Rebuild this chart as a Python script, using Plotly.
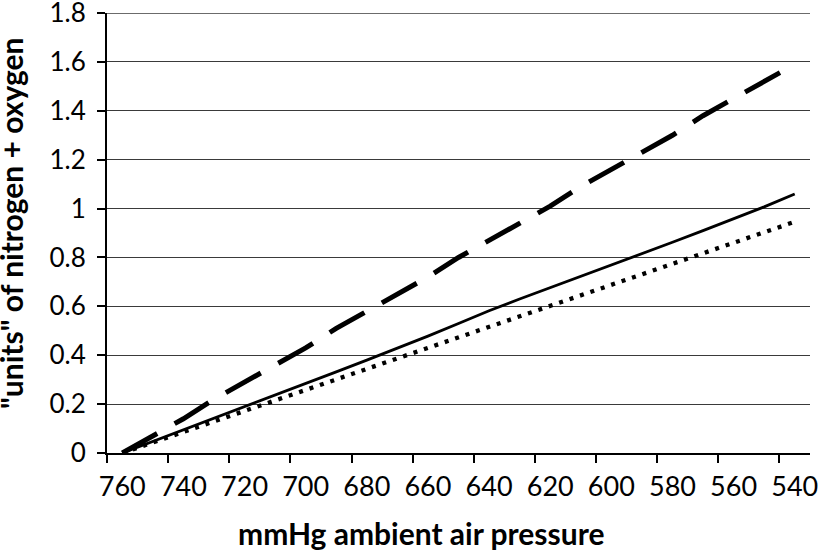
import plotly.graph_objects as go

# Data
pressure = [760, 750, 740, 730, 720, 710, 700, 690, 680, 670, 660, 650,
            640, 630, 620, 610, 600, 590, 580, 570, 560, 550, 540]
dashed_series = [0, 0.07, 0.14, 0.22, 0.29, 0.36, 0.43, 0.51, 0.58, 0.65, 0.72, 0.80,
                 0.87, 0.94, 1.01, 1.09, 1.16, 1.23, 1.30, 1.38, 1.45, 1.52, 1.59]
solid_series = [0, 0.047, 0.095, 0.142, 0.19, 0.237, 0.285, 0.332, 0.38, 0.428, 0.478, 0.53,
                0.582, 0.63, 0.676, 0.722, 0.768, 0.815, 0.862, 0.91, 0.958, 1.007, 1.06]
dotted_series = [0, 0.043, 0.086, 0.129, 0.172, 0.215, 0.258, 0.301, 0.344, 0.387, 0.43, 0.473,
                 0.516, 0.559, 0.602, 0.645, 0.688, 0.731, 0.774, 0.817, 0.86, 0.903, 0.946]
x_tick_labels = [760, 740, 720, 700, 680, 660, 640, 620, 600, 580, 560, 540]
y_tick_values = [0, 0.2, 0.4, 0.6, 0.8, 1.0, 1.2, 1.4, 1.6, 1.8]
y_tick_text = ["0", "0.2", "0.4", "0.6", "0.8", "1", "1.2", "1.4", "1.6", "1.8"]

FONT = "Lato, Open Sans, sans-serif"
GRID = "#3a3a3a"

fig = go.Figure()
fig.add_trace(go.Scatter(x=pressure, y=dashed_series, mode="lines",
                         line=dict(color="black", width=5, dash="40px,20px"),
                         showlegend=False))
fig.add_trace(go.Scatter(x=pressure, y=solid_series, mode="lines",
                         line=dict(color="black", width=2.8),
                         showlegend=False))
fig.add_trace(go.Scatter(x=pressure, y=dotted_series, mode="lines",
                         line=dict(color="black", width=4.3, dash="4px,7px"),
                         showlegend=False))

# category-boundary tick marks (half a category step from labels)
boundary_ticks = [v + 5 for v in x_tick_labels]

fig.update_xaxes(
    range=[765, 535],
    tickmode="array", tickvals=x_tick_labels,
    ticktext=[str(v) for v in x_tick_labels],
    ticks="", showgrid=False, zeroline=False,
    showline=True, linecolor="black", linewidth=2,
    tickfont=dict(family=FONT, size=27, color="black"),
    ticklabelstandoff=9, ticklabeloverflow="allow",
    minor=dict(tickmode="array", tickvals=boundary_ticks, ticks="outside",
               ticklen=8, tickwidth=2, tickcolor="black", showgrid=False),
)
fig.update_yaxes(
    range=[0, 1.8002], tickmode="array", tickvals=y_tick_values,
    ticktext=y_tick_text,
    ticks="outside", ticklen=8, tickwidth=2, tickcolor="black",
    showgrid=True, gridcolor=GRID, gridwidth=1.3,
    zeroline=False, showline=True, linecolor="black", linewidth=2,
    tickfont=dict(family=FONT, size=26, color="black"),
    ticklabelstandoff=6, ticklabeloverflow="allow",
)
# top gridline sits on the plot edge, where plotly drops grid lines
fig.add_hline(y=y_tick_values[-1], line=dict(color=GRID, width=1.3), layer="below")

# plot area aims at x 107-810, y 13-453 (page body margin removed below)
fig.add_annotation(text="\"units\" of nitrogen + oxygen", textangle=-90,
                   xref="paper", yref="paper", x=(11 - 107) / 703, y=(453 - 224) / 440,
                   xanchor="center", yanchor="middle", showarrow=False,
                   font=dict(family=FONT, size=30, color="black", weight="bold"))
fig.add_annotation(text="mmHg ambient air pressure",
                   xref="paper", yref="paper", x=(421 - 107) / 703, y=-(533 - 453) / 440,
                   xanchor="center", yanchor="middle", showarrow=False,
                   font=dict(family=FONT, size=30, color="black", weight="bold"))

fig.update_layout(
    width=820, height=550,
    margin=dict(l=107, r=10, t=13, b=97, autoexpand=False),
    plot_bgcolor="white", paper_bgcolor="white",
)

fig.write_html("out.html", config={"displayModeBar": False},
               post_script="document.body.style.margin='0px';")
